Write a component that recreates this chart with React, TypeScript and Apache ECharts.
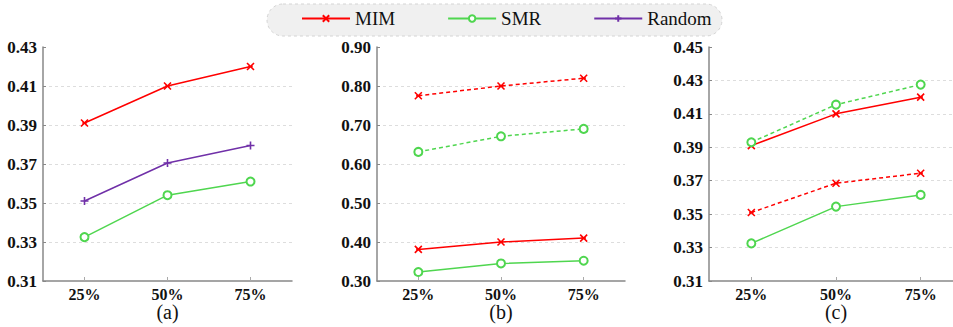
import React, { useEffect, useRef } from "react";
import * as echarts from "echarts";

const categories = ["25%", "50%", "75%"];

// Panel (a)
const aMIM = [0.391, 0.41, 0.42];
const aSMR = [0.3325, 0.354, 0.361];
const aRandom = [0.351, 0.3705, 0.3795];

// Panel (b)
const bMIMSolid = [0.381, 0.4, 0.41];
const bSMRSolid = [0.323, 0.345, 0.352];
const bMIMDashed = [0.775, 0.8, 0.82];
const bSMRDashed = [0.631, 0.671, 0.69];

// Panel (c)
const cMIMSolid = [0.391, 0.41, 0.42];
const cSMRSolid = [0.3325, 0.3545, 0.3615];
const cMIMDashed = [0.351, 0.3685, 0.3745];
const cSMRDashed = [0.393, 0.4155, 0.4275];

const panelLabels = ["(a)", "(b)", "(c)"];
const yRanges = [
  { min: 0.31, max: 0.43, interval: 0.02 },
  { min: 0.3, max: 0.9, interval: 0.1 },
  { min: 0.31, max: 0.45, interval: 0.02 },
];

const RED = "#ff0000";
const GREEN = "#4fd64f";
const PURPLE = "#7030a8";
const FONT = "Liberation Serif";

const MIM_SYMBOL = "path://M0,0L8,8M8,0L0,8M1.5,4L6.5,4";
const PLUS_SYMBOL = "path://M4,0L4,8M0,4L8,4";

const boldText = {
  fontFamily: FONT,
  fontWeight: "bold",
  color: "#111",
};

export default function App() {
  const ref = useRef<HTMLDivElement>(null);
  useEffect(() => {
    if (!ref.current) return;
    const chart = echarts.init(ref.current, undefined, { renderer: "svg" });

    const grids = [
      { left: 43, width: 249, top: 47, bottom: 46, outerBoundsMode: "none", containLabel: false },
      { left: 377, width: 248, top: 47, bottom: 46, outerBoundsMode: "none", containLabel: false },
      { left: 709, width: 254, top: 47, bottom: 46, outerBoundsMode: "none", containLabel: false },
    ];

    const xAxes = grids.map((_, i) => ({
      type: "category",
      gridIndex: i,
      data: categories,
      boundaryGap: true,
      name: panelLabels[i],
      nameLocation: "middle",
      nameGap: 31,
      nameMoveOverlap: false,
      nameTextStyle: { fontFamily: FONT, fontSize: 20, color: "#111", verticalAlign: "middle" },
      axisLine: { lineStyle: { color: "#888", width: 1.5 } },
      axisTick: { show: true, inside: true, alignWithLabel: true, length: 4, lineStyle: { color: "#aaa" } },
      axisLabel: { ...boldText, fontSize: 16, margin: 5 },
      splitLine: { show: false },
    }));

    const yAxes = yRanges.map((r, i) => ({
      type: "value",
      gridIndex: i,
      min: r.min,
      max: r.max,
      interval: r.interval,
      axisLine: { show: true, lineStyle: { color: "#888", width: 1.5 } },
      axisTick: { show: true, inside: true, length: 3, lineStyle: { color: "#888" } },
      axisLabel: {
        ...boldText,
        fontSize: 17,
        margin: 6,
        formatter: (v: number) => v.toFixed(2),
      },
      splitLine: {
        show: true,
        showMaxLine: false,
        showMinLine: false,
        lineStyle: { color: "#ddd", type: [3, 3], width: 1 },
      },
    }));

    const mk = (
      name: string,
      data: number[],
      idx: number,
      color: string,
      kind: "mim" | "smr" | "rand",
      dashed: boolean
    ) => ({
      name,
      type: "line",
      xAxisIndex: idx,
      yAxisIndex: idx,
      data,
      symbol: kind === "mim" ? MIM_SYMBOL : kind === "smr" ? "emptyCircle" : PLUS_SYMBOL,
      symbolSize: kind === "mim" ? 7 : kind === "smr" ? 8 : 8,
      lineStyle: { color, width: 1.5, type: dashed ? [4, 3] : "solid" },
      itemStyle:
        kind === "smr"
          ? { color, borderColor: color, borderWidth: 1.3 }
          : { color, borderColor: color, borderWidth: 1.6 },
      emphasis: { disabled: true },
      z: 3,
    });

    const series = [
      mk("MIM", aMIM, 0, RED, "mim", false),
      mk("SMR", aSMR, 0, GREEN, "smr", false),
      mk("Random", aRandom, 0, PURPLE, "rand", false),
      mk("MIM", bMIMSolid, 1, RED, "mim", false),
      mk("SMR", bSMRSolid, 1, GREEN, "smr", false),
      mk("MIM", bMIMDashed, 1, RED, "mim", true),
      mk("SMR", bSMRDashed, 1, GREEN, "smr", true),
      mk("MIM", cMIMSolid, 2, RED, "mim", false),
      mk("SMR", cSMRSolid, 2, GREEN, "smr", false),
      mk("MIM", cMIMDashed, 2, RED, "mim", true),
      mk("SMR", cSMRDashed, 2, GREEN, "smr", true),
    ];

    chart.setOption({
      animation: false,
      backgroundColor: "#fff",
      grid: grids,
      xAxis: xAxes,
      yAxis: yAxes,
      series,
      legend: {
        data: ["MIM", "SMR", "Random"],
        left: 301,
        top: 9,
        padding: 0,
        itemWidth: 48,
        itemHeight: 8,
        itemGap: 52,
        selectedMode: false,
        textStyle: { fontFamily: FONT, fontSize: 19, color: "#111" },
        z: 10,
      },
      graphic: [
        {
          type: "rect",
          z: 0,
          silent: true,
          shape: { x: 267, y: 4, width: 455, height: 32, r: 16 },
          style: { fill: "#f0f0f0", stroke: "#d4d4d4", lineWidth: 1, lineDash: [3, 3] },
        },
      ],
    });

    return () => chart.dispose();
  }, []);

  return (
    <div
      ref={ref}
      style={{ position: "fixed", left: 0, top: 0, width: 953, height: 327 }}
    />
  );
}
